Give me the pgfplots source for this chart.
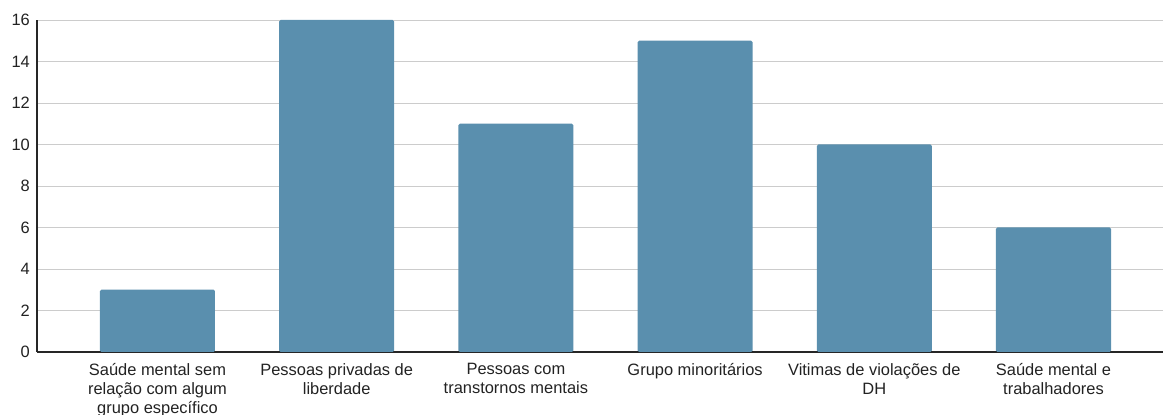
\documentclass[border=0pt]{standalone}
\usepackage{fontspec}
\setmainfont{Liberation Sans}
\usepackage{pgfplots}
\pgfplotsset{compat=1.18}
\definecolor{barc}{RGB}{90,143,174}
\definecolor{gridc}{RGB}{204,204,204}
\definecolor{txt}{RGB}{34,34,34}
\begin{document}
\begin{tikzpicture}
\useasboundingbox (-37bp,-63bp) rectangle (1126bp,352bp);
\begin{axis}[
  at={(0,0)}, anchor=south west,
  scale only axis, width=1126bp, height=332bp,
  xmin=-0.6724, xmax=5.611, ymin=0, ymax=16,
  ytick={0,2,...,16},
  xtick={0,...,5},
  xticklabels={{Saúde mental sem\\relação com algum\\grupo específico},
               {Pessoas privadas de\\liberdade},
               {Pessoas com\\transtornos mentais},
               {Grupo minoritários},
               {Vitimas de violações de\\DH},
               {Saúde mental e\\trabalhadores}},
  /pgf/number format/assume math mode=true,
  tick label style={font=\fontsize{16.5}{19}\selectfont, text=txt},
  xticklabel style={align=center, inner sep=0pt, yshift=-11bp},
  yticklabel style={inner sep=0pt, xshift=-7bp},
  axis x line*=bottom, axis y line*=left,
  axis line style={line width=1.2pt, color=black!85},
  ymajorgrids, grid style={color=gridc, line width=0.9pt},
  major tick length=0pt,
  ybar, bar width=115bp,
]
\addplot[fill=barc, draw=none, rounded corners=1.5pt] coordinates {(0,3) (1,16) (2,11) (3,15) (4,10) (5,6)};
\end{axis}
\end{tikzpicture}
\end{document}
